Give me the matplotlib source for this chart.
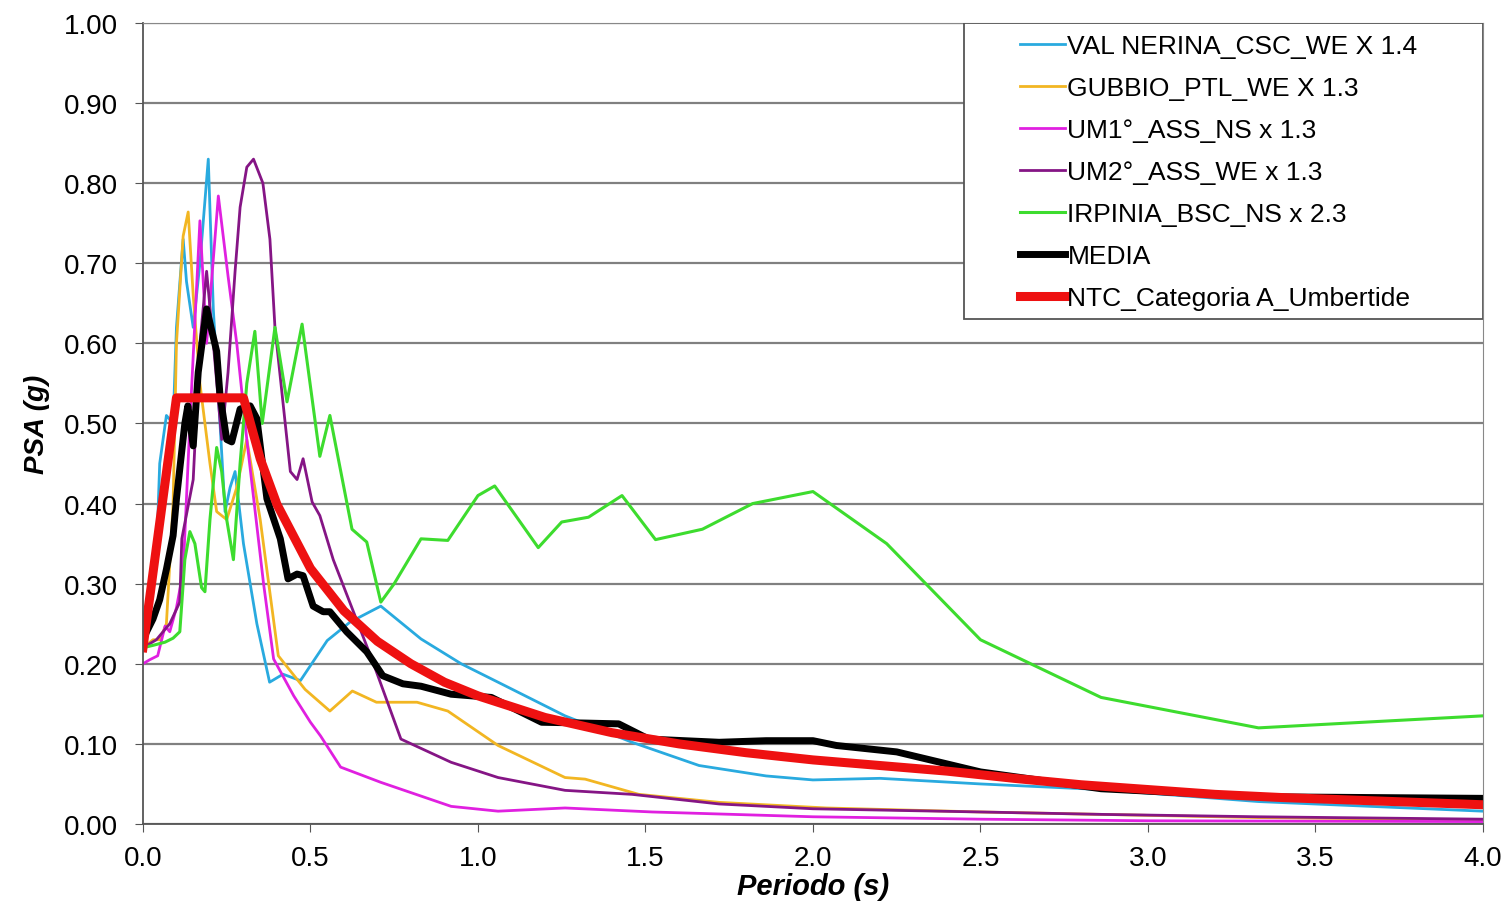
import matplotlib
matplotlib.use("Agg")
import matplotlib.pyplot as plt
from matplotlib.patches import Rectangle

plt.rcParams['font.family'] = ['Liberation Sans', 'DejaVu Sans']

# VAL NERINA_CSC_WE X 1.4
t_val = [0.0, 0.02, 0.04, 0.05, 0.07, 0.09, 0.1, 0.12, 0.13, 0.15, 0.17, 0.195, 0.21, 0.23, 0.245,
         0.26, 0.275, 0.3, 0.34, 0.378, 0.418, 0.47, 0.55, 0.618, 0.71, 0.83, 0.95, 1.06, 1.26,
         1.46, 1.66, 1.86, 2.0, 2.2, 2.5, 2.86, 3.33, 4.0]
psa_val = [0.22, 0.28, 0.33, 0.45, 0.51, 0.50, 0.62, 0.73, 0.677, 0.62, 0.70, 0.83, 0.643, 0.50, 0.39,
           0.42, 0.44, 0.35, 0.25, 0.177, 0.187, 0.179, 0.229, 0.252, 0.272, 0.231, 0.20, 0.177, 0.135,
           0.102, 0.073, 0.06, 0.055, 0.057, 0.05, 0.043, 0.028, 0.016]

# GUBBIO_PTL_WE X 1.3
t_gub = [0.0, 0.03, 0.05, 0.07, 0.09, 0.1, 0.12, 0.135, 0.15, 0.17, 0.2, 0.22, 0.25, 0.28, 0.31,
         0.35, 0.404, 0.484, 0.558, 0.625, 0.697, 0.818, 0.91, 1.06, 1.26, 1.32, 1.48, 1.72, 2.04,
         2.5, 2.86, 3.33, 4.0]
psa_gub = [0.22, 0.23, 0.23, 0.25, 0.40, 0.60, 0.734, 0.764, 0.66, 0.55, 0.45, 0.39, 0.38, 0.42, 0.48,
           0.38, 0.21, 0.168, 0.141, 0.166, 0.152, 0.152, 0.141, 0.098, 0.058, 0.056, 0.037, 0.027, 0.02,
           0.015, 0.012, 0.008, 0.005]

# UM1°_ASS_NS x 1.3
t_um1 = [0.0, 0.02, 0.044, 0.066, 0.08, 0.1, 0.12, 0.14, 0.17, 0.19, 0.225, 0.254, 0.28, 0.31,
         0.36, 0.39, 0.45, 0.5, 0.53, 0.59, 0.71, 0.92, 1.06, 1.26, 1.52, 2.0, 2.5, 3.0, 4.0]
psa_um1 = [0.20, 0.205, 0.21, 0.247, 0.24, 0.27, 0.315, 0.50, 0.753, 0.60, 0.784, 0.684, 0.60, 0.48,
           0.30, 0.206, 0.16, 0.127, 0.11, 0.071, 0.052, 0.022, 0.016, 0.02, 0.015, 0.009, 0.006, 0.004, 0.003]

# UM2°_ASS_WE x 1.3
t_um2 = [0.0, 0.04, 0.08, 0.11, 0.116, 0.15, 0.17, 0.19, 0.21, 0.235, 0.254, 0.275, 0.29, 0.31,
         0.33, 0.358, 0.379, 0.394, 0.44, 0.46, 0.478, 0.505, 0.528, 0.568, 0.683, 0.77, 0.92, 1.06,
         1.26, 1.46, 1.72, 2.0, 2.5, 2.86, 3.33, 4.0]
psa_um2 = [0.22, 0.23, 0.25, 0.277, 0.356, 0.43, 0.60, 0.69, 0.60, 0.48, 0.564, 0.69, 0.77, 0.82,
           0.83, 0.80, 0.73, 0.62, 0.44, 0.43, 0.456, 0.402, 0.385, 0.33, 0.206, 0.106, 0.077, 0.058,
           0.042, 0.037, 0.025, 0.019, 0.015, 0.012, 0.009, 0.006]

# IRPINIA_BSC_NS x 2.3
t_irp = [0.0, 0.03, 0.066, 0.09, 0.11, 0.125, 0.14, 0.155, 0.175, 0.185, 0.2, 0.22, 0.235, 0.25,
         0.27, 0.29, 0.31, 0.334, 0.356, 0.394, 0.43, 0.475, 0.528, 0.558, 0.624, 0.668, 0.71, 0.75,
         0.83, 0.91, 1.0, 1.05, 1.18, 1.25, 1.33, 1.43, 1.53, 1.67, 1.82, 2.0, 2.22, 2.5, 2.86,
         3.33, 4.0]
psa_irp = [0.22, 0.223, 0.227, 0.232, 0.24, 0.33, 0.365, 0.35, 0.295, 0.29, 0.38, 0.47, 0.44, 0.38,
           0.33, 0.45, 0.55, 0.615, 0.50, 0.62, 0.527, 0.624, 0.459, 0.51, 0.368, 0.352, 0.277, 0.30,
           0.356, 0.354, 0.41, 0.422, 0.345, 0.377, 0.383, 0.41, 0.355, 0.368, 0.40, 0.415, 0.35, 0.23, 0.158,
           0.12, 0.135]

# MEDIA
t_med = [0.0, 0.011, 0.03, 0.05, 0.07, 0.09, 0.1, 0.125, 0.134, 0.15, 0.165, 0.19, 0.22, 0.23, 0.25,
         0.265, 0.29, 0.32, 0.34, 0.37, 0.41, 0.433, 0.46, 0.478, 0.508, 0.538, 0.558, 0.608, 0.668,
         0.716, 0.776, 0.83, 0.92, 1.04, 1.19, 1.32, 1.42, 1.51, 1.72, 1.86, 2.0, 2.07, 2.25, 2.5,
         2.86, 3.33, 4.0]
psa_med = [0.23, 0.24, 0.256, 0.28, 0.318, 0.36, 0.406, 0.50, 0.522, 0.472, 0.564, 0.643, 0.59, 0.535, 0.48,
           0.477, 0.518, 0.522, 0.506, 0.406, 0.356, 0.306, 0.312, 0.31, 0.272, 0.265, 0.265, 0.24, 0.215,
           0.185, 0.175, 0.172, 0.162, 0.158, 0.127, 0.126, 0.125, 0.106, 0.102, 0.104, 0.104, 0.098, 0.09, 0.065,
           0.044, 0.034, 0.032]

# NTC_Categoria A_Umbertide
t_ntc = [0.0, 0.1, 0.3, 0.35, 0.4, 0.5, 0.6, 0.7, 0.8, 0.9, 1.0, 1.2, 1.4, 1.6, 1.8, 2.0, 2.2, 2.4,
         2.6, 2.8, 3.0, 3.2, 3.4, 3.6, 3.8, 4.0]
psa_ntc = [0.22, 0.532, 0.532, 0.456, 0.399, 0.319, 0.266, 0.228, 0.2, 0.177, 0.16, 0.133, 0.114, 0.1,
           0.089, 0.08, 0.073, 0.066, 0.057, 0.049, 0.043, 0.037, 0.033, 0.03, 0.027, 0.024]

fig = plt.figure(figsize=(15.08, 9.04), dpi=100)
ax = fig.add_axes([0.0948, 0.0874, 0.8886, 0.8861])

ax.plot(t_val, psa_val, color='#29aadf', lw=2, label='VAL NERINA_CSC_WE X 1.4')
ax.plot(t_gub, psa_gub, color='#f2b622', lw=2, label='GUBBIO_PTL_WE X 1.3')
ax.plot(t_um1, psa_um1, color='#e020e0', lw=2, label='UM1°_ASS_NS x 1.3')
ax.plot(t_um2, psa_um2, color='#851585', lw=2, label='UM2°_ASS_WE x 1.3')
ax.plot(t_irp, psa_irp, color='#3ddc2e', lw=2.2, label='IRPINIA_BSC_NS x 2.3')
ax.plot(t_med, psa_med, color='black', lw=5, label='MEDIA')
ax.plot(t_ntc, psa_ntc, color='#ee1111', lw=6.5, label='NTC_Categoria A_Umbertide')

ax.set_xlim(0, 4)
ax.set_ylim(0, 1)
ax.set_xticks([0, 0.5, 1, 1.5, 2, 2.5, 3, 3.5, 4])
ax.set_xticklabels(['%.1f' % v for v in [0, 0.5, 1, 1.5, 2, 2.5, 3, 3.5, 4]])
ax.set_yticks([i / 10 for i in range(11)])
ax.set_yticklabels(['%.2f' % (i / 10) for i in range(11)])
ax.tick_params(labelsize=20, direction='out', length=6, color='#555555')
ax.tick_params(axis='x', pad=9)
ax.tick_params(axis='y', pad=12)
ax.grid(axis='y', color='#808080', lw=1.6)
ax.set_axisbelow(True)
for s in ['top', 'right']:
    ax.spines[s].set_color('#888888')
for s in ['left', 'bottom']:
    ax.spines[s].set_color('#555555')
    ax.spines[s].set_linewidth(1.3)

ax.set_xlabel('Periodo (s)', fontsize=21, fontweight='bold', fontstyle='italic', labelpad=1)
ax.set_ylabel('PSA (g)', fontsize=20, fontweight='bold', fontstyle='italic', labelpad=10)

# legend box drawn separately, entries placed inside
ax.add_patch(Rectangle((0.6127, 0.6305), 0.3873, 0.3695, transform=ax.transAxes,
                       facecolor='white', edgecolor='#555555', lw=1.3, zorder=5))
leg = ax.legend(loc='upper left', bbox_to_anchor=(0.6545, 0.986), fontsize=19, frameon=False,
                handlelength=1.7, handletextpad=0.1, labelspacing=0.68, borderpad=0,
                borderaxespad=0)
leg.set_zorder(6)

fig.savefig('out.png', dpi=100)
